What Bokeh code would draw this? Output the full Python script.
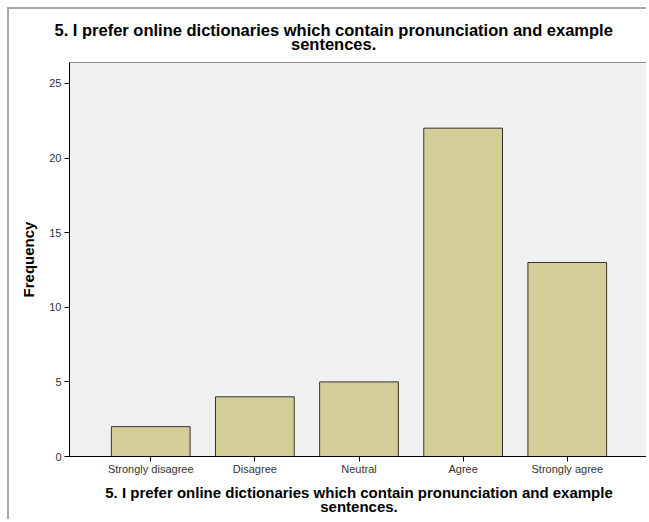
from bokeh.plotting import figure
from bokeh.models import FactorRange, Range1d, SingleIntervalTicker, Title, ColumnDataSource
from bokeh.embed import file_html
from bokeh.resources import INLINE

categories = ["Strongly disagree", "Disagree", "Neutral", "Agree", "Strongly agree"]
frequencies = [2, 4, 5, 22, 13]
title_line1 = "5. I prefer online dictionaries which contain pronunciation and example"
title_line2 = "sentences."
x_label = "5. I prefer online dictionaries which contain pronunciation and example\nsentences."
y_label = "Frequency"

src = ColumnDataSource(dict(cat=categories, freq=frequencies))

p = figure(
    x_range=FactorRange(*categories, range_padding=0.28, range_padding_units="absolute"),
    y_range=Range1d(0, 26.4),
    width=639, height=512,
    output_backend="svg", toolbar_location=None, title=None,
    min_border_left=60, min_border_top=53, min_border_bottom=65, min_border_right=0,
)
p.styles = {"margin-left": "7px", "margin-top": "7px",
            "border-left": "2px solid #a8a8a8", "border-top": "2px solid #a8a8a8"}

p.vbar(x="cat", top="freq", width=0.756, source=src,
       fill_color="#d3ce97", line_color="#333333", line_width=1)

p.background_fill_color = "#f0f0f0"
p.border_fill_color = "white"
p.outline_line_color = "#8c8c8c"
p.xgrid.visible = False
p.ygrid.visible = False

for ax in (p.xaxis[0], p.yaxis[0]):
    ax.axis_line_color = "black"
    ax.major_tick_line_color = "black"
    ax.major_tick_out = 5
    ax.major_tick_in = 0
    ax.minor_tick_line_color = None
    ax.major_label_text_font = "Liberation Sans"
    ax.major_label_text_font_size = "11px"
    ax.major_label_text_color = "#333333"
    ax.axis_label_text_font = "Liberation Sans"
    ax.axis_label_text_font_style = "bold"
    ax.axis_label_text_font_size = "15px"
    ax.axis_label_text_color = "black"

p.yaxis[0].ticker = SingleIntervalTicker(interval=5)
p.yaxis[0].major_label_standoff = 3
p.yaxis[0].axis_label = y_label
p.yaxis[0].axis_label_standoff = 9
p.xaxis[0].major_label_standoff = 1
p.xaxis[0].axis_label = x_label
p.xaxis[0].axis_label_standoff = 6
p.xaxis[0].axis_label_text_line_height = 0.85

t2 = Title(text=title_line2, align="left", offset=221.5, standoff=20,
           text_font="Liberation Sans", text_font_style="bold", text_font_size="16.5px",
           text_color="black")
t1 = Title(text=title_line1, align="left", offset=-15, standoff=-33,
           text_font="Liberation Sans", text_font_style="bold", text_font_size="16.5px",
           text_color="black")
p.add_layout(t2, "above")
p.add_layout(t1, "above")

open("out.html", "w").write(file_html(p, INLINE))
